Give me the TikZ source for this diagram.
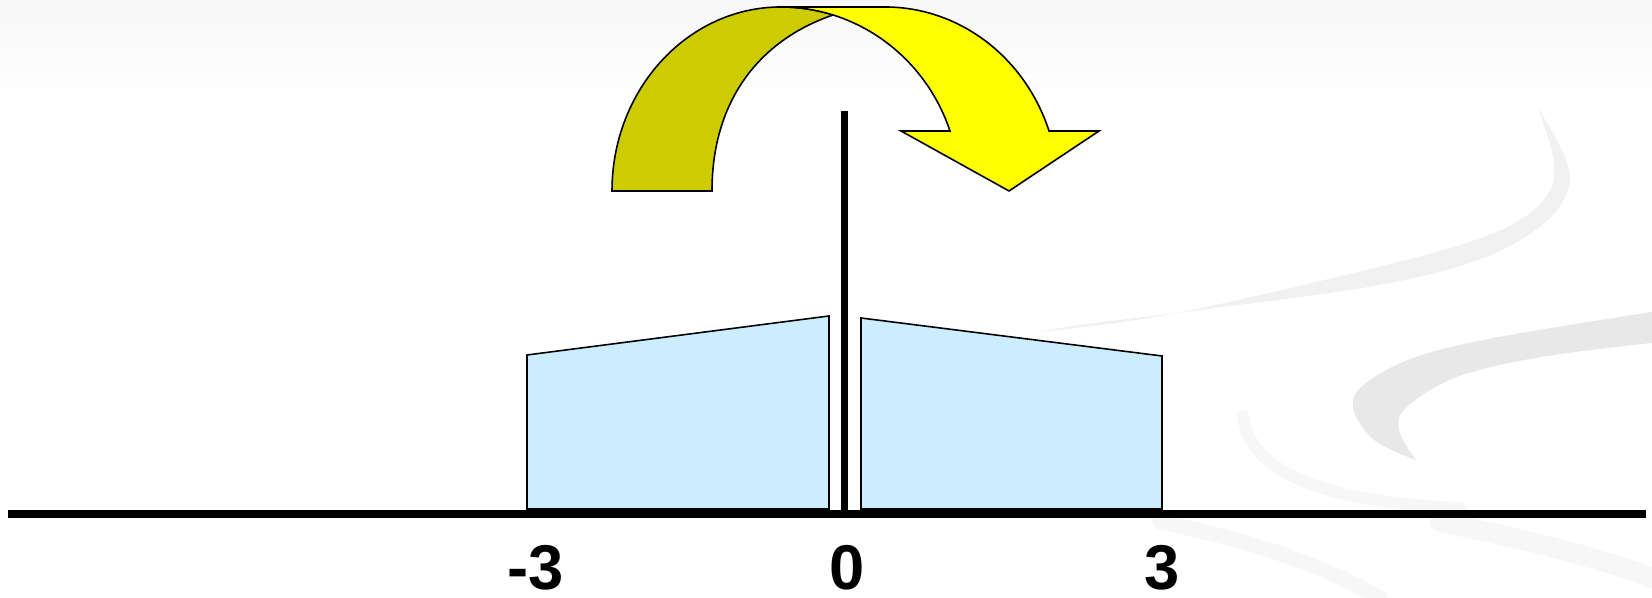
\documentclass[tikz,border=0pt]{standalone}
\usepackage{fontspec}
\setmainfont{Liberation Sans}
\definecolor{olivedark}{HTML}{CCCC00}
\definecolor{brightyellow}{HTML}{FFFF00}
\definecolor{paleblue}{HTML}{CCECFF}
\definecolor{swirlgrey}{HTML}{E8E8E8}
\definecolor{swirlpale}{HTML}{F1F1F1}
\definecolor{swirlfaint}{HTML}{F7F7F7}

\begin{document}
\begin{tikzpicture}[x=0.1mm,y=0.1mm,
  outline/.style={draw=black,line width=0.45pt,line join=miter},
  bar/.style={line width=0.75mm},
  tick/.style={font=\fontsize{18}{21}\selectfont\bfseries,anchor=base,inner sep=0pt}]
\useasboundingbox (0,0) rectangle (1652,598);
\fill[white] (0,0) rectangle (1652,598);
\shade[top color=black!3,bottom color=white] (0,490) rectangle (1652,598);
% background swirl
\fill[swirlpale] plot[smooth,tension=0.6] coordinates {(1538,490) (1565,441) (1568,408) (1541,372) (1478,338) (1374,312) (1208,289) (1080,273) (1040,266)}
  -- plot[smooth,tension=0.6] coordinates {(1040,266) (1166,283) (1333,320) (1457,352) (1520,378) (1550,408) (1553,441) (1538,490)} -- cycle;
\fill[swirlgrey] plot[smooth,tension=0.6] coordinates {(1652,286) (1499,261) (1416,241) (1366,215) (1353,191) (1374,158) (1416,138)}
  -- plot[smooth,tension=0.6] coordinates {(1416,138) (1399,168) (1407,191) (1457,221) (1541,241) (1652,255)} -- cycle;
\draw[swirlfaint,line width=1.2mm,line cap=round] (1243,182) .. controls (1250,120) and (1340,95) .. (1460,90);
\draw[swirlfaint,line width=1.5mm,line cap=round] (1160,76) .. controls (1230,62) and (1310,40) .. (1380,0);
\draw[swirlfaint,line width=2mm,line cap=round] (1440,76) .. controls (1520,60) and (1600,40) .. (1652,20);
% axis and divider
\coordinate (axl) at (8,84);
\coordinate (axr) at (1646,84);
\coordinate (divtop) at (844.5,487);
\coordinate (divbot) at (844.5,84);
\draw[bar] (axl) -- (axr);
\draw[bar] (divtop) -- (divbot);
% the two slabs
\filldraw[outline,fill=paleblue] (527,89) -- (527,243) -- (829,282) -- (829,89) -- cycle;
\filldraw[outline,fill=paleblue] (861,89) -- (861,280) -- (1162,242) -- (1162,89) -- cycle;
% curved arrow, back face then front face
\filldraw[outline,fill=olivedark] (781,591) arc[start angle=90,end angle=180,x radius=169,y radius=184]
  -- (712,407) .. controls (712,498) and (760,558) .. (833,583)
  arc[start angle=73,end angle=90,x radius=179,y radius=184] -- cycle;
\filldraw[outline,fill=brightyellow] (781,591) -- (885,591)
  arc[start angle=90,end angle=19.03,x radius=173.5,y radius=184]
  -- (1099,467) -- (1009,407) -- (901,467) -- (950,467)
  arc[start angle=19.03,end angle=90,x radius=179,y radius=184] -- cycle;
% labels
\node[tick] (lblminus) at (536,8) {-3};
\node[tick] (lblzero) at (847,8) {0};
\node[tick] (lblthree) at (1162,8) {3};
\end{tikzpicture}
\end{document}
